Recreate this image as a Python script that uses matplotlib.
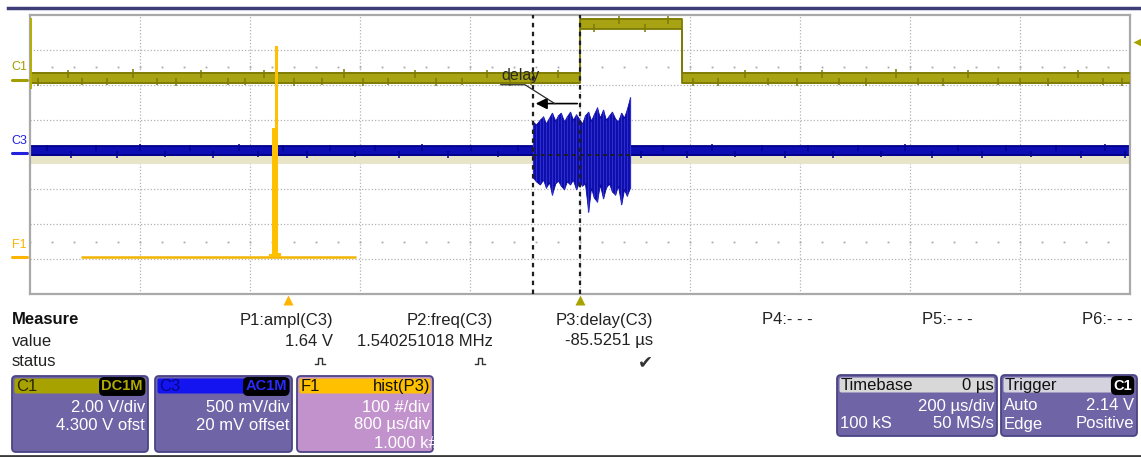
import matplotlib
matplotlib.use('Agg')
import matplotlib.pyplot as plt
from matplotlib.patches import FancyBboxPatch
import numpy as np

plt.rcParams['font.family'] = ['Liberation Sans', 'DejaVu Sans']

# channel setup (scope units)
TDIV_US = 200.0
C1_VDIV, C1_OFST = 2.0, 4.3
C3_MVDIV, C3_OFST = 500.0, 20.0
F1_CNT_DIV, F1_US_DIV, F1_CENTER_US, F1_ZERO_DIV = 100.0, 800.0, 2127.0, -2.95
TRIG_LEVEL_V = 2.14

# C1: gate signal, step levels between edges
c1_edges_us = [-1000, 0, 185, 1000]
c1_levels_v = [0.1, 3.2, 0.1]
c1_spike_us = [-985, -930, -905, -860, -812, -770, -735, -690, -640, -610,
               -575, -520, -470, -430, -395, -350, -300, -262, -215, -170,
               -128, -90, -40, 25, 70, 118, 160, 205, 250, 300,
               342, 395, 440, 470, 520, 575, 615, 660, 705, 760,
               800, 850, 905, 950, 985]
c1_spike_v = [-0.36, 0.56, -0.32, -0.34, 0.58, -0.33, -0.38, 0.56, -0.34, -0.32,
              0.55, -0.36, -0.32, 0.58, -0.35, -0.33, 0.55, -0.37, -0.32, 0.56,
              -0.36, -0.34, 0.54, 2.72, 3.66, 2.7, 3.64, -0.35, -0.36, 0.56,
              -0.32, -0.37, 0.55, -0.34, -0.35, 0.58, -0.32, -0.36, 0.55, -0.34,
              -0.32, -0.38, 0.56, -0.33, -0.36]

# C3: idle noise level and burst envelope
c3_level_mv = 35
c3_spike_us = [-970, -925, -880, -842, -800, -755, -710, -668, -620, -585,
               -540, -497, -455, -410, -372, -330, -288, -240, -198, -150,
               -112, 110, 150, 195, 240, 282, 330, 372, 415, 460,
               505, 548, 590, 640, 688, 730, 775, 820, 866, 910,
               955, 990]
c3_spike_mv = [120, -65, 112, -70, 125, -60, 115, -68, 128, -62,
               112, -72, 120, -62, 115, -66, 125, -70, 112, -62,
               120, -66, 115, -70, 128, -62, 112, -66, 120, -72,
               115, -62, 125, -66, 112, -70, 120, -62, 115, -66,
               125, -70]
burst_us = [-85.5, -80, -73, -67, -62, -56, -51, -45, -40, -35, -29, -24, -18,
            -13, -7, -2, 4, 9, 15, 20, 25, 31, 36, 42, 47, 53, 58, 64, 69, 75,
            80, 85, 91]
burst_hi_mv = [450, 410, 480, 525, 425, 510, 580, 465, 540, 580,
               455, 525, 595, 480, 555, 495, 425, 540, 595, 465,
               555, 655, 510, 625, 480, 540, 595, 495, 455, 580,
               510, 625, 800]
burst_lo_mv = [-350, -405, -450, -380, -495, -420, -595, -435, -395, -465,
               -520, -405, -450, -380, -520, -420, -465, -435, -840, -495,
               -635, -695, -450, -650, -495, -435, -550, -595, -465, -735,
               -520, -610, -495]

# F1: histogram of the delay measurement
hist_us = [-124, -102, -80, -58]
hist_counts = [10, 370, 607, 13]
hist_bin_us = 22
hist_span_us = [-1500, 500]

delay_us = -85.5251

measure_names = ['P1:ampl(C3)', 'P2:freq(C3)', 'P3:delay(C3)', 'P4:- - -', 'P5:- - -', 'P6:- - -']
measure_values = ['1.64 V', '1.540251018 MHz', '-85.5251 µs', '', '', '']
measure_status = ['pulse', 'pulse', 'ok', '', '', '']


def tx(t):
    return np.asarray(t, float) / TDIV_US

def c1y(v):
    return (np.asarray(v, float) + C1_OFST) / C1_VDIV

def c3y(mv):
    return (np.asarray(mv, float) + C3_OFST) / C3_MVDIV

def fx(t):
    return (np.asarray(t, float) - F1_CENTER_US) / F1_US_DIV

def fy(n):
    return F1_ZERO_DIV + np.asarray(n, float) / F1_CNT_DIV


W, H = 1141, 457
fig = plt.figure(figsize=(W / 100, H / 100), dpi=100)
fig.patch.set_facecolor('white')
ax = fig.add_axes([30 / W, 163 / H, 1100 / W, 279 / H])
ax.set_xlim(-5, 5)
ax.set_ylim(-4, 4)
ax.set_xticks([])
ax.set_yticks([])
for s in ax.spines.values():
    s.set_color('#a9a9a9')
    s.set_linewidth(1.6)

# graticule
for g in range(-4, 5):
    ax.axvline(g, color='#b2b2b2', lw=0.9, ls=(0, (1, 1.6)), zorder=0)
for g in range(-3, 4):
    ax.axhline(g, color='#b2b2b2', lw=0.9, ls=(0, (1, 1.6)), zorder=0)
minor = np.arange(-5, 5.001, 0.2)
for yy in (2.5, -2.5):
    ax.plot(minor, np.full_like(minor, yy), ls='none', marker='s', ms=1.3,
            color='#a8a8a8', mec='none', zorder=0)

# persistence band under C3
ax.fill_between([-5, 5], c3y(-20), c3y(-150), color='#e8e4c8', lw=0, zorder=1)

# C3 trace
ax.fill_between(tx([-1000, 1000]), c3y(c3_level_mv - 72), c3y(c3_level_mv + 72),
                color='#0d0db4', lw=0, zorder=2)
ax.plot(tx([-1000, 1000]), c3y([c3_level_mv + 64] * 2), color='#00008a', lw=1.3, zorder=2)
ax.plot(tx([-1000, 1000]), c3y([c3_level_mv - 64] * 2), color='#00008a', lw=1.3, zorder=2)
ax.vlines(tx(c3_spike_us), c3y(c3_level_mv), c3y(c3_spike_mv), color='#00008f', lw=1.1, zorder=2)
ax.fill_between(tx(burst_us), c3y(burst_lo_mv), c3y(burst_hi_mv),
                color='#0a0aa6', lw=0.6, ec='#0a0aa6', zorder=3)
ax.vlines(tx(burst_us), c3y(burst_lo_mv), c3y(burst_hi_mv), color='#2d2dd2', lw=0.9, zorder=3)

# C1 trace
lv = np.append(c1_levels_v, c1_levels_v[-1])
ax.fill_between(tx(c1_edges_us), c1y(lv - 0.33), c1y(lv + 0.33), step='post',
                color='#a7a312', lw=0, zorder=4)
ax.step(tx(c1_edges_us), c1y(lv + 0.28), where='post', color='#7d7b06', lw=1.3, zorder=4)
ax.step(tx(c1_edges_us), c1y(lv - 0.28), where='post', color='#7d7b06', lw=1.3, zorder=4)
base = np.array(c1_levels_v)[np.searchsorted(c1_edges_us, c1_spike_us, side='right') - 1]
ax.vlines(tx(c1_spike_us), c1y(base), c1y(c1_spike_v), color='#7d7b06', lw=1.1, zorder=4)
ax.vlines(tx(c1_edges_us[0]) + 0.01, c1y(-0.55), c1y(3.5), color='#b5b000', lw=1.4, zorder=4)

# cursors and delay marker
for t in (delay_us, 0):
    ax.axvline(tx(t), color='#1e1e1e', lw=1.6, ls=(0, (2, 2)), zorder=6)
ax.hlines(0, tx(delay_us), tx(burst_us[-1]), color='#1e1e1e', lw=1.4, ls=(0, (2, 2)), zorder=6)
arrow_y = 1.46
ax.annotate('', xy=(tx(delay_us), arrow_y), xytext=(0, arrow_y),
            arrowprops=dict(arrowstyle='-|>', color='black', lw=1.2, mutation_scale=17),
            zorder=6)
ax.text(-0.545, 2.27, 'delay', ha='center', va='center', fontsize=11.5, color='#2a2a20', zorder=6)
ax.plot([-0.72, -0.5, -0.23], [2.0, 2.0, arrow_y], color='#2a2a2a', lw=0.9, zorder=6)

# F1 histogram
ax.plot(fx(hist_span_us), [F1_ZERO_DIV] * 2, color='#f2b400', lw=1.8, zorder=7, solid_capstyle='butt')
ax.bar(fx(hist_us), fy(hist_counts) - F1_ZERO_DIV, bottom=F1_ZERO_DIV,
       width=hist_bin_us / F1_US_DIV, color='#ffc000', lw=0, zorder=7)

# channel ground markers and labels on the left
for lab, gy, col in (('C1', c1y(0), '#a39e00'), ('C3', c3y(0), '#2222dd'), ('F1', F1_ZERO_DIV, '#ffb400')):
    ax.plot([-5.16, -5.03], [gy, gy], color=col, lw=2.2, clip_on=False, solid_capstyle='round')
    ax.text(-5.165, gy + 0.18, lab, color=col, fontsize=9, ha='left', va='bottom', clip_on=False)

# trigger level and position markers
ax.plot([5.075], [c1y(TRIG_LEVEL_V)], marker='<', ms=7, color='#a8a200', mec='none', clip_on=False)
ax.plot([tx(0)], [-4.16], marker='^', ms=7, color='#a8a200', mec='none', clip_on=False)
ax.plot([fx(0)], [-4.16], marker='^', ms=7, color='#ffb400', mec='none', clip_on=False)

# readout area
ov = fig.add_axes([0, 0, 1, 1])
ov.set_xlim(0, W)
ov.set_ylim(H, 0)
ov.axis('off')
ov.plot([8, W], [8, 8], color='#3f3d78', lw=2.5)
ov.plot([0, W], [455.5, 455.5], color='#3a3a3a', lw=2)

FS = 12
ov.text(12, 320, 'Measure', fontsize=FS, weight='bold', va='center', color='#111')
ov.text(12, 341, 'value', fontsize=FS, va='center', color='#222')
ov.text(12, 361, 'status', fontsize=FS, va='center', color='#222')
for i, (nm, val, st) in enumerate(zip(measure_names, measure_values, measure_status)):
    xr = 333 + 160 * i
    ov.text(xr, 320, nm, fontsize=FS, ha='right', va='center', color='#222')
    if val:
        ov.text(xr, 341, val, fontsize=FS, ha='right', va='center', color='#222')
    if st == 'pulse':
        cx = xr - 13
        ov.plot(cx + np.array([-5, -2, -2, 2, 2, 5]), 361 + np.array([3, 3, -3, -3, 3, 3]),
                color='#333', lw=1)
    elif st == 'ok':
        ov.text(xr - 8, 362, '✔', fontsize=13, ha='center', va='center', color='#333',
                family='DejaVu Sans')


def panel(x0, x1, y0, y1, face, head, left, lcol, right='', rcol='#111', tag=False,
          rows=()):
    box = FancyBboxPatch((x0, y0), x1 - x0, y1 - y0, boxstyle='round,pad=0,rounding_size=4',
                         fc=face, ec='#4a4484', lw=1.3)
    ov.add_patch(box)
    ov.add_patch(FancyBboxPatch((x0 + 2.5, y0 + 2.5), x1 - x0 - 5, 15,
                                boxstyle='round,pad=0,rounding_size=2', fc=head, ec='none'))
    hy = y0 + 10.5
    ov.text(x0 + 4, hy, left, fontsize=FS, va='center', color=lcol)
    if right:
        if tag:
            ov.text(x1 - 5, hy, right, fontsize=10.5, weight='bold', ha='right', va='center',
                    color=rcol, bbox=dict(boxstyle='round,pad=0.12,rounding_size=0.3',
                                          fc='black', ec='black'))
        else:
            ov.text(x1 - 3, hy, right, fontsize=FS, ha='right', va='center', color=rcol)
    for k, (lt, rt) in enumerate(rows):
        yy = y0 + 31 + 18 * k
        if lt:
            ov.text(x0 + 3, yy, lt, fontsize=FS, va='center', color='white')
        if rt:
            t = ov.text(x1 - 3, yy, rt, fontsize=FS, ha='right', va='center', color='white')
            if rt.endswith('k#'):
                t.set_position((x1 + 5, yy))
                t.set_clip_path(box)
                t.set_clip_on(True)


panel(12, 148, 376, 452, '#6f65a6', '#a8a200', 'C1', '#2a2800', 'DC1M', '#b0aa00', True,
      [('', '2.00 V/div'), ('', '4.300 V ofst')])
panel(155, 292, 376, 452, '#6f65a6', '#1414f0', 'C3', '#05058a', 'AC1M', '#2a2aff', True,
      [('', '500 mV/div'), ('', '20 mV offset')])
panel(297, 433, 376, 452, '#c292cc', '#ffc000', 'F1', '#111', 'hist(P3)', '#111', False,
      [('', '100 #/div'), ('', '800 µs/div'), ('', '1.000 k#')])
panel(837, 997, 375, 436, '#6f65a6', '#d8d8d8', 'Timebase', '#111', '0 µs', '#111', False,
      [('', '200 µs/div'), ('100 kS', '50 MS/s')])
panel(1001, 1137, 375, 436, '#6f65a6', '#d4d3de', 'Trigger', '#111', 'C1', 'white', True,
      [('Auto', '2.14 V'), ('Edge', 'Positive')])

fig.savefig('out.png', dpi=100)
plt.close(fig)
